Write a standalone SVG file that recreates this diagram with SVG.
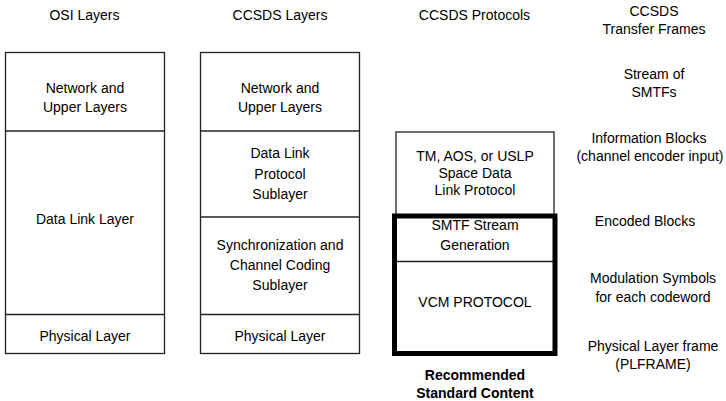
<svg xmlns="http://www.w3.org/2000/svg" width="726" height="401" viewBox="0 0 726 401">
<style>
text { font-family: "Liberation Sans", Arial, sans-serif; font-size: 14px; fill: #000; text-anchor: middle; }
.b { font-weight: bold; }
.box { fill: #fff; stroke: #222; stroke-width: 1.3; }
.div { stroke: #222; stroke-width: 1.3; fill: none; }
.thick { fill: none; stroke: #000; stroke-width: 5; }
</style>
<rect width="726" height="401" fill="#fff"/>
<g id="headers">
<text x="84.5" y="20">OSI Layers</text>
<text x="280" y="20">CCSDS Layers</text>
<text x="474.5" y="20">CCSDS Protocols</text>
<text x="654" y="16">CCSDS</text>
<text x="654" y="34">Transfer Frames</text>
</g>
<g id="osi">
<rect class="box" x="5.5" y="52.5" width="159" height="301"/>
<line class="div" x1="5.5" y1="131" x2="164.5" y2="131"/>
<line class="div" x1="5.5" y1="314.5" x2="164.5" y2="314.5"/>
<text x="85" y="93">Network and</text>
<text x="85" y="112">Upper Layers</text>
<text x="85" y="224">Data Link Layer</text>
<text x="85" y="341">Physical Layer</text>
</g>
<g id="ccsds-layers">
<rect class="box" x="200.5" y="52.5" width="159" height="301"/>
<line class="div" x1="200.5" y1="131" x2="359.5" y2="131"/>
<line class="div" x1="200.5" y1="217" x2="359.5" y2="217"/>
<line class="div" x1="200.5" y1="314.5" x2="359.5" y2="314.5"/>
<text x="280" y="93">Network and</text>
<text x="280" y="112">Upper Layers</text>
<text x="280" y="158">Data Link</text>
<text x="280" y="179">Protocol</text>
<text x="280" y="199">Sublayer</text>
<text x="280" y="250">Synchronization and</text>
<text x="280" y="270">Channel Coding</text>
<text x="280" y="290">Sublayer</text>
<text x="280" y="341">Physical Layer</text>
</g>
<g id="protocols">
<rect class="box" x="396" y="132" width="158" height="84"/>
<text x="475" y="161">TM, AOS, or USLP</text>
<text x="475" y="178">Space Data</text>
<text x="475" y="195">Link Protocol</text>
</g>
<g id="recommended">
<line class="div" x1="397" y1="261.5" x2="553" y2="261.5"/>
<rect class="thick" x="394.5" y="216" width="160.5" height="137.5"/>
<text x="475" y="230">SMTF Stream</text>
<text x="475" y="250">Generation</text>
<text x="475" y="307">VCM PROTOCOL</text>
<text class="b" x="475" y="380">Recommended</text>
<text class="b" x="475" y="398">Standard Content</text>
</g>
<g id="frames">
<text x="654" y="79">Stream of</text>
<text x="654" y="97">SMTFs</text>
<text x="649" y="143">Information Blocks</text>
<text x="650" y="161">(channel encoder input)</text>
<text x="645" y="226">Encoded Blocks</text>
<text x="653" y="283">Modulation Symbols</text>
<text x="653" y="302">for each codeword</text>
<text x="653" y="351">Physical Layer frame</text>
<text x="653" y="369">(PLFRAME)</text>
</g>
<g id="connectors"></g>
</svg>
